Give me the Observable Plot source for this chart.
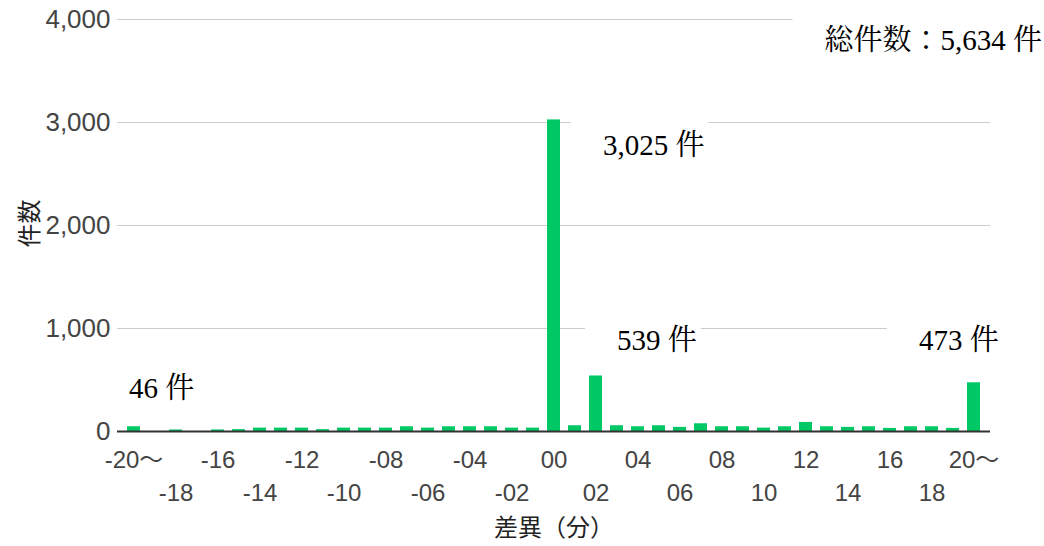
<!DOCTYPE html>
<html><head><meta charset="utf-8">
<script src="https://cdn.jsdelivr.net/npm/d3@7"></script>
<script src="https://cdn.jsdelivr.net/npm/@observablehq/plot@0.6"></script>
<style>body{margin:0;background:#fff} svg{display:block}</style>
</head><body><div id="chart"></div>
<script>
const categories = ["-20～","-19","-18","-17","-16","-15","-14","-13","-12","-11","-10","-09","-08","-07","-06","-05","-04","-03","-02","-01",
  "00","01","02","03","04","05","06","07","08","09","10","11","12","13","14","15","16","17","18","19","20～"];
const counts = [46,0,15,0,15,18,33,33,33,18,33,33,33,46,33,46,46,46,33,33,
  3025,56,539,56,46,56,40,75,46,46,33,46,88,46,40,46,30,46,46,30,473];
const yTicks = [0,1000,2000,3000,4000];
const row1Labels = categories.filter((d,i) => i % 4 === 0);
const row2Labels = categories.filter((d,i) => i % 4 === 2);
const annoLabels = ["46 件","3,025 件","539 件","473 件","総件数：5,634 件"];
const annoAnchors = ["-20～","02","03","17","20～"];
const annoValues = [417, 2777, 883, 883, 3796];
const annoDx = [-5, 7, 0, 8, 68];
const annoAlign = ["start","start","start","start","end"];
const xTitle = "差異（分）";
const yTitle = "件数";

const bars = categories.map((c,i) => ({cat: c, n: counts[i]}));
const annos = annoLabels.map((t,i) => ({text: t, cat: annoAnchors[i], v: annoValues[i], dx: annoDx[i], align: annoAlign[i]}));

const serif = "'Liberation Serif','Noto Serif CJK JP','Noto Sans CJK JP',serif";
const tickColor = "#444";

const chart = Plot.plot({
  width: 1044, height: 546,
  marginLeft: 117, marginRight: 54, marginTop: 19, marginBottom: 115,
  style: {fontFamily: "'Liberation Sans',Arial,'Noto Sans CJK JP',sans-serif", background: "#fff"},
  x: {domain: categories, paddingInner: 0.39, paddingOuter: 0.2, axis: null},
  y: {domain: [0, 4000], axis: null},
  marks: [
    Plot.ruleY(yTicks.slice(1), {stroke: "#ccc", strokeWidth: 1}),
    Plot.axisY(yTicks, {tickSize: 0, tickPadding: 7, tickFormat: d3.format(","), fontSize: 26, color: tickColor, label: null}),
    Plot.axisX(row1Labels, {tickSize: 0, tickPadding: 19, fontSize: 24, color: tickColor, label: null}),
    Plot.axisX(row2Labels, {tickSize: 0, tickPadding: 52, fontSize: 24, color: tickColor, label: null}),
    Plot.barY(bars, {x: "cat", y: "n", fill: "#00c864"}),
    Plot.ruleY([0], {stroke: "#333", strokeWidth: 2}),
    ...annos.map(d => Plot.text([d], {x: "cat", y: "v", text: "text", dx: d.dx, textAnchor: d.align, lineAnchor: "middle",
      fontSize: 29, fontFamily: serif, fill: "#000", className: "anno"})),
    Plot.text([xTitle], {text: d => d, frameAnchor: "bottom", dy: 97, lineAnchor: "middle", fontSize: 24, fill: "#222",
      fontFamily: "'Noto Sans CJK JP',sans-serif"}),
    Plot.text([yTitle], {text: d => d, frameAnchor: "left", dx: -87, dy: 22, rotate: -90, lineAnchor: "middle", fontSize: 24, fill: "#222",
      fontFamily: "'Noto Sans CJK JP',sans-serif"})
  ]
});
document.getElementById("chart").append(chart);
chart.querySelectorAll("g.anno text").forEach(t => {
  const b = t.getBBox();
  const r = document.createElementNS("http://www.w3.org/2000/svg", "rect");
  r.setAttribute("x", b.x - 32);
  r.setAttribute("y", b.y - 8);
  r.setAttribute("width", b.width + 36);
  r.setAttribute("height", b.height + 12);
  r.setAttribute("fill", "#fff");
  const tr = t.getAttribute("transform");
  if (tr) r.setAttribute("transform", tr);
  t.parentNode.insertBefore(r, t);
});
</script>
</body></html>
